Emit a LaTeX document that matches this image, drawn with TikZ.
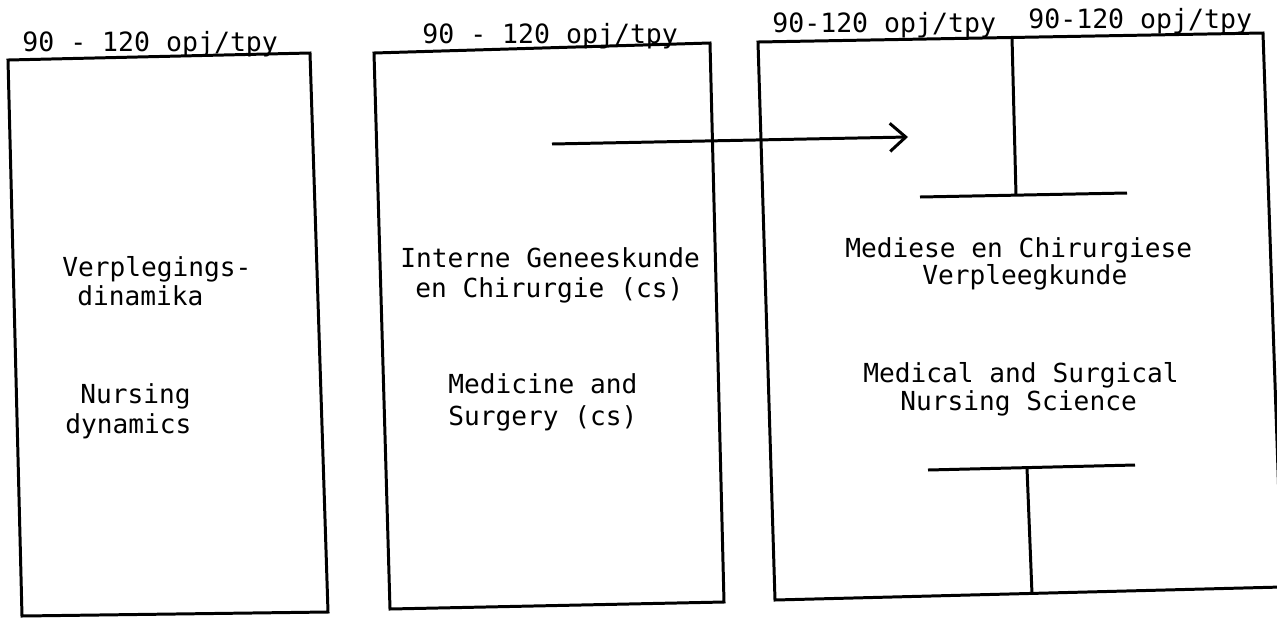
\documentclass[tikz,border=0pt]{standalone}
\usepackage{fontspec}
\setmonofont{DejaVu Sans Mono}
\usetikzlibrary{arrows.meta}

\tikzset{
  frame/.style = {line width=1.7pt, line join=miter},
  bar/.style = {line width=1.7pt},
  txt/.style = {anchor=base west, inner sep=0pt,
    font=\ttfamily\fontsize{14.9}{16}\selectfont},
  hrs/.style = {txt, font=\ttfamily\fontsize{15.1}{16}\selectfont},
}

\begin{document}
\begin{tikzpicture}[x = 0.2mm, y = -0.2mm]
\useasboundingbox (0, 0) rectangle (1277, 618);

% the three boxes (scan is a little skewed)
\draw[frame] (8, 60) -- (310, 53) -- (328, 612) -- (22, 616) -- cycle;
\draw[frame] (374, 53) -- (710, 43) -- (724, 602) -- (390, 609) -- cycle;
\draw[frame] (758, 42) -- (1263, 33) -- (1282, 587) -- (775, 600) -- cycle;

% hours above the boxes
\node (hrsA) [hrs] at (22, 51) {90 - 120 opj/tpy};
\node (hrsB) [hrs] at (422, 43) {90 - 120 opj/tpy};
\node (hrsC) [hrs] at (772, 32) {90-120 opj/tpy};
\node (hrsD) [hrs] at (1028, 28) {90-120 opj/tpy};

% box 1
\node (dynA) [txt] at (62, 276) {Verplegings-};
\node (dynB) [txt] at (77, 305) {dinamika};
\node (dynC) [txt] at (80, 403) {Nursing};
\node (dynD) [txt] at (65, 433) {dynamics};

% box 2
\node (medA) [txt] at (400, 267) {Interne Geneeskunde};
\node (medB) [txt] at (415, 297) {en Chirurgie (cs)};
\node (medC) [txt] at (448, 393) {Medicine and};
\node (medD) [txt] at (448, 425) {Surgery (cs)};

% box 3
\node (nurA) [txt] at (845, 257) {Mediese en Chirurgiese};
\node (nurB) [txt] at (922, 284) {Verpleegkunde};
\node (nurC) [txt] at (863, 382) {Medical and Surgical};
\node (nurD) [txt] at (900, 410) {Nursing Science};

% arrow from box 2 into box 3
\coordinate (from) at (552, 144);
\coordinate (to) at (908, 137);
\draw[bar, -{Straight Barb[length=9pt, width=16pt]}] (from) -- (to);

% split lines in box 3
\coordinate (topA) at (1012, 37);
\coordinate (topB) at (1016, 195);
\coordinate (barL) at (920, 197);
\coordinate (barR) at (1127, 193);
\draw[bar] (topA) -- (topB);
\draw[bar] (barL) -- (barR);
\coordinate (lowL) at (928, 470);
\coordinate (lowR) at (1135, 465);
\coordinate (lowA) at (1027, 468);
\coordinate (lowB) at (1032, 594);
\draw[bar] (lowL) -- (lowR);
\draw[bar] (lowA) -- (lowB);
\end{tikzpicture}
\end{document}
